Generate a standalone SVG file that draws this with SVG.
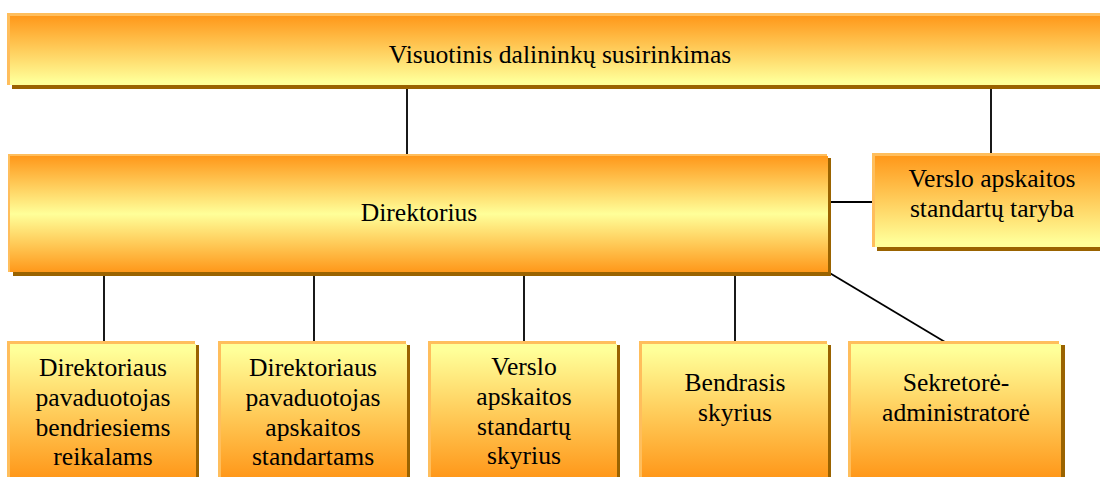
<svg xmlns="http://www.w3.org/2000/svg" width="1100" height="477" viewBox="0 0 1100 477" font-family="'Liberation Serif', 'DejaVu Serif', serif">
<defs>
<linearGradient id="gDown" x1="0" y1="0" x2="0" y2="1">
<stop offset="0" stop-color="#FF981A"/><stop offset="0.95" stop-color="#FFFF99"/>
</linearGradient>
<linearGradient id="gMid" x1="0" y1="0" x2="0" y2="1">
<stop offset="0" stop-color="#FF981A"/><stop offset="0.5" stop-color="#FFFF99"/><stop offset="1" stop-color="#FF981A"/>
</linearGradient>
<linearGradient id="gUp" x1="0" y1="0" x2="0" y2="1">
<stop offset="0.05" stop-color="#FFFF99"/><stop offset="1" stop-color="#FF981A"/>
</linearGradient>
<style>
.sh{fill:#9A6300}
.ed{fill:#FFBE5C}
.t{font-family:'Liberation Serif','DejaVu Serif',serif;font-size:25.6px;fill:#000;text-anchor:middle}
.cn line{stroke:#000;stroke-width:1.8}
</style>
</defs>
<g class="cn" id="connectors">
<line x1="407" y1="89" x2="407" y2="156"/>
<line x1="991" y1="89" x2="991" y2="154"/>
<line x1="828" y1="202" x2="874" y2="202"/>
<line x1="104" y1="275" x2="104" y2="342"/>
<line x1="314" y1="275" x2="314" y2="342"/>
<line x1="524" y1="275" x2="524" y2="342"/>
<line x1="735" y1="275" x2="735" y2="342"/>
<line x1="828" y1="272" x2="945" y2="342"/>
</g>
<g id="n-top">
<rect class="sh" x="12" y="17" width="1100" height="72"/>
<rect class="ed" x="7" y="13" width="1100" height="72"/>
<rect fill="url(#gDown)" x="10" y="16" width="1100" height="69"/>
<text class="t" x="560" y="63">Visuotinis dalininkų susirinkimas</text>
</g>
<g id="n-dir">
<rect class="sh" x="13" y="158" width="818" height="118"/>
<rect class="ed" x="8" y="154" width="819" height="118"/>
<rect fill="url(#gMid)" x="10" y="156" width="818" height="116"/>
<text class="t" x="419" y="221">Direktorius</text>
</g>
<g id="n-taryba">
<rect class="sh" x="877" y="157" width="240" height="94"/>
<rect class="ed" x="872" y="153" width="240" height="94"/>
<rect fill="url(#gDown)" x="875" y="156" width="240" height="91"/>
<text class="t" x="992" y="187">Verslo apskaitos</text>
<text class="t" x="992" y="217">standartų taryba</text>
</g>
<g id="n-b1">
<rect class="sh" x="11" y="345" width="188" height="140"/>
<rect class="ed" x="7" y="341" width="188" height="140"/>
<rect fill="url(#gUp)" x="10" y="344" width="186" height="133"/>
<text class="t" x="103" y="376">Direktoriaus</text>
<text class="t" x="103" y="406">pavaduotojas</text>
<text class="t" x="103" y="435.5">bendriesiems</text>
<text class="t" x="103" y="465">reikalams</text>
</g>
<g id="n-b2">
<rect class="sh" x="222" y="345" width="188" height="140"/>
<rect class="ed" x="218" y="341" width="188" height="140"/>
<rect fill="url(#gUp)" x="221" y="344" width="186" height="133"/>
<text class="t" x="313" y="376">Direktoriaus</text>
<text class="t" x="313" y="406">pavaduotojas</text>
<text class="t" x="313" y="435.5">apskaitos</text>
<text class="t" x="313" y="465">standartams</text>
</g>
<g id="n-b3">
<rect class="sh" x="432" y="345" width="188" height="140"/>
<rect class="ed" x="428" y="341" width="188" height="140"/>
<rect fill="url(#gUp)" x="431" y="344" width="186" height="133"/>
<text class="t" x="524" y="375">Verslo</text>
<text class="t" x="524" y="405">apskaitos</text>
<text class="t" x="524" y="434.5">standartų</text>
<text class="t" x="524" y="464">skyrius</text>
</g>
<g id="n-b4">
<rect class="sh" x="643" y="345" width="188" height="140"/>
<rect class="ed" x="639" y="341" width="188" height="140"/>
<rect fill="url(#gUp)" x="642" y="344" width="186" height="133"/>
<text class="t" x="735" y="391">Bendrasis</text>
<text class="t" x="735" y="421">skyrius</text>
</g>
<g id="n-b5">
<rect class="sh" x="853" y="345" width="212" height="140"/>
<rect class="ed" x="848" y="341" width="211" height="140"/>
<rect fill="url(#gUp)" x="851" y="344" width="210" height="133"/>
<text class="t" x="956" y="391">Sekretorė-</text>
<text class="t" x="956" y="421">administratorė</text>
</g>
</svg>
